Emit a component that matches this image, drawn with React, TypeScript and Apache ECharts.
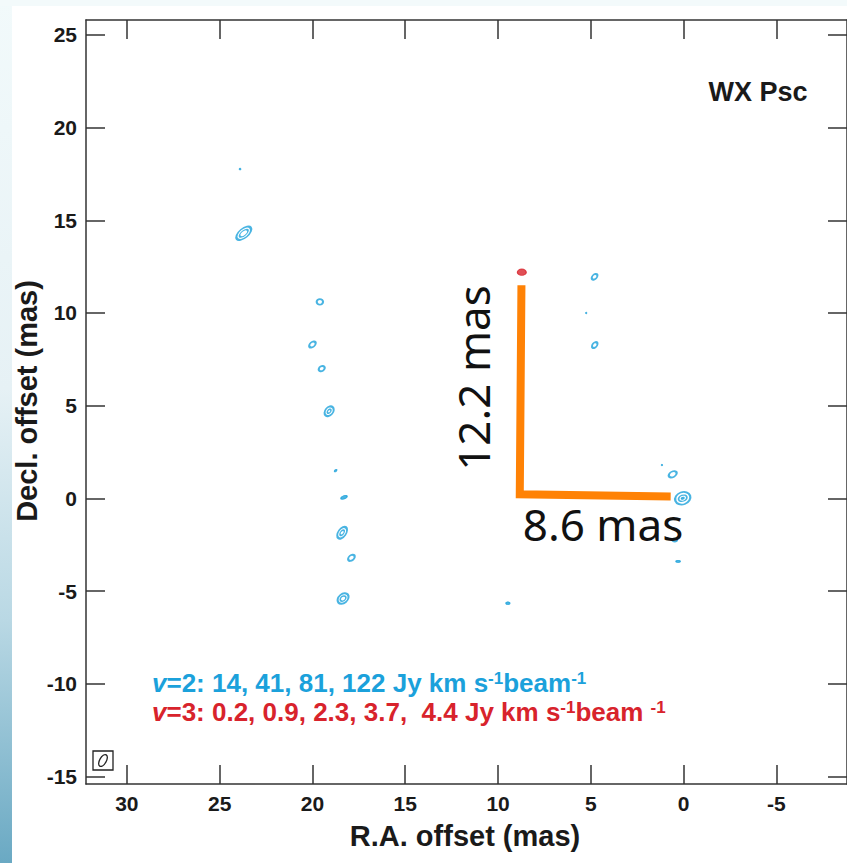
import React, { useEffect, useRef } from "react";
import * as echarts from "echarts";

// ---- data (mas) ----
const xTicks = [30, 25, 20, 15, 10, 5, 0, -5];
const yTicks = [25, 20, 15, 10, 5, 0, -5, -10, -15];
const xRange = [-8.8, 32.2];
const yRange = [-15.4, 25.8];

// [R.A. offset, Decl. offset, major, minor, angle(deg)]
const v2Outer = [
  [23.7, 14.3, 0.95, 0.5, 40],
  [19.6, 10.6, 0.34, 0.3, 0],
  [20.0, 8.3, 0.4, 0.26, 40],
  [19.5, 7.0, 0.34, 0.26, 30],
  [19.1, 4.7, 0.58, 0.42, 50],
  [18.4, -1.85, 0.7, 0.42, 55],
  [17.9, -3.2, 0.4, 0.28, 40],
  [18.35, -5.4, 0.66, 0.48, 40],
  [4.8, 11.95, 0.36, 0.24, 45],
  [4.79, 8.27, 0.36, 0.24, 50],
  [0.59, 1.3, 0.46, 0.3, 30],
  [0.05, 0.01, 0.84, 0.66, 20],
  [0.48, -2.24, 0.24, 0.18, 0],
];
const v2Inner = [
  [23.7, 14.3, 0.55, 0.25, 40],
  [19.1, 4.7, 0.24, 0.16, 50],
  [18.4, -1.85, 0.32, 0.18, 55],
  [18.35, -5.4, 0.34, 0.24, 40],
  [0.05, 0.01, 0.46, 0.32, 20],
];
const v2Cores = [
  [23.9, 17.76, 0.1, 0.1, 0],
  [18.75, 1.5, 0.16, 0.1, 40],
  [18.3, 0.06, 0.36, 0.18, 20],
  [9.47, -5.65, 0.22, 0.15, 0],
  [5.25, 10.0, 0.08, 0.08, 0],
  [1.17, 1.8, 0.08, 0.08, 0],
  [0.3, -3.4, 0.24, 0.13, 0],
  [0.05, 0.01, 0.16, 0.11, 20],
];
const v3Spots = [[8.72, 12.2, 0.48, 0.34, 0]];
const offsetL = [
  [8.74, 11.5],
  [8.83, 0.22],
  [0.7, 0.1],
];
const titleText = "WX Psc";
const v2Levels = "14, 41, 81, 122";
const v3Levels = "0.2, 0.9, 2.3, 3.7,  4.4";

const BLUE = "#1ba1db";
const RED = "#d8232c";
const ORANGE = "#ff8205";
const INK = "#1a1a1a";
const ELLIPSE =
  "path://M1,0C1,0.552,0.552,1,0,1C-0.552,1,-1,0.552,-1,0C-1,-0.552,-0.552,-1,0,-1C0.552,-1,1,-0.552,1,0Z";

const GRID = { left: 86, top: 20, width: 762, height: 764 };
const PX = GRID.width / (xRange[1] - xRange[0]);

function toItems(arr: number[][]) {
  return arr.map((d) => ({
    value: [d[0], d[1]],
    symbolSize: [Math.max(d[2] * PX, 1.5), Math.max(d[3] * PX, 1.5)],
    symbolRotate: d[4],
  }));
}

export default function App() {
  const ref = useRef<HTMLDivElement>(null);
  useEffect(() => {
    if (!ref.current) return;
    const chart = echarts.init(ref.current, null, { renderer: "svg" });
    const font = "Liberation Sans, Arial, Helvetica, sans-serif";
    const axisLine = { show: true, onZero: false, lineStyle: { color: "#333", width: 1.5 } };
    const tick = (vals: number[]) => ({
      show: true,
      inside: true,
      length: 19,
      customValues: vals,
      lineStyle: { color: "#333", width: 1.5 },
    });
    const label = (vals: number[], margin: number) => ({
      show: true,
      customValues: vals,
      fontFamily: font,
      fontWeight: "bold",
      fontSize: 21,
      color: INK,
      margin,
    });
    const xBase = {
      type: "value",
      inverse: true,
      min: xRange[0],
      max: xRange[1],
      splitLine: { show: false },
      axisLine,
    };
    const yBase = {
      type: "value",
      min: yRange[0],
      max: yRange[1],
      splitLine: { show: false },
      axisLine,
    };
    const rich = {
      v: { fontStyle: "italic", fontWeight: "bold", fontSize: 26, fontFamily: font },
      n: { fontWeight: "bold", fontSize: 26, fontFamily: font },
      s: { fontWeight: "bold", fontSize: 17, fontFamily: font, verticalAlign: "top", lineHeight: 16 },
    };
    const option: any = {
      animation: false,
      backgroundColor: "#ffffff",
      grid: { ...GRID, containLabel: false },
      xAxis: [
        { ...xBase, position: "bottom", axisTick: tick(xTicks), axisLabel: label(xTicks, 9) },
        { ...xBase, position: "top", axisTick: tick(xTicks), axisLabel: { show: false } },
      ],
      yAxis: [
        { ...yBase, position: "left", axisTick: tick(yTicks), axisLabel: label(yTicks, 9) },
        { ...yBase, position: "right", axisTick: tick(yTicks), axisLabel: { show: false } },
      ],
      series: [
        {
          type: "line",
          data: offsetL,
          showSymbol: false,
          symbol: "none",
          lineStyle: { color: ORANGE, width: 8, join: "miter", cap: "butt" },
          z: 3,
        },
        {
          type: "scatter",
          data: toItems(v2Outer),
          symbol: ELLIPSE,
          itemStyle: { color: "rgba(0,0,0,0)", borderColor: BLUE, borderWidth: 2 },
          z: 4,
        },
        {
          type: "scatter",
          data: toItems(v2Inner),
          symbol: ELLIPSE,
          itemStyle: { color: "rgba(0,0,0,0)", borderColor: BLUE, borderWidth: 1.5 },
          z: 4,
        },
        {
          type: "scatter",
          data: toItems(v2Cores),
          symbol: ELLIPSE,
          itemStyle: { color: BLUE, borderColor: BLUE, borderWidth: 1 },
          z: 4,
        },
        {
          type: "scatter",
          data: toItems(v3Spots),
          symbol: ELLIPSE,
          itemStyle: { color: RED, borderColor: RED, borderWidth: 1 },
          z: 4,
        },
      ],
      graphic: [
        {
          type: "rect",
          shape: { x: 0, y: 0, width: 12, height: 863 },
          style: {
            fill: new echarts.graphic.LinearGradient(0, 0, 0, 1, [
              { offset: 0, color: "#f2fafb" },
              { offset: 0.45, color: "#e6f1f5" },
              { offset: 0.72, color: "#b9d8e4" },
              { offset: 1, color: "#6aa9c3" },
            ]),
          },
          silent: true,
          z: -10,
        },
        {
          type: "rect",
          shape: { x: 0, y: 0, width: 847, height: 6 },
          style: { fill: "#f3fafb" },
          silent: true,
          z: -10,
        },
        {
          type: "text",
          x: 758,
          y: 92,
          style: {
            text: titleText,
            fontFamily: font,
            fontWeight: "bold",
            fontSize: 27,
            fill: INK,
            align: "center",
            verticalAlign: "middle",
          },
        },
        {
          type: "text",
          x: 465,
          y: 836,
          style: {
            text: "R.A. offset (mas)",
            fontFamily: font,
            fontWeight: "bold",
            fontSize: 29,
            fill: INK,
            align: "center",
            verticalAlign: "middle",
          },
        },
        {
          type: "text",
          x: 27,
          y: 401,
          rotation: Math.PI / 2,
          style: {
            text: "Decl. offset (mas)",
            fontFamily: font,
            fontWeight: "bold",
            fontSize: 29,
            fill: INK,
            align: "center",
            verticalAlign: "middle",
          },
        },
        {
          type: "text",
          x: 152,
          y: 683,
          style: {
            text: "{v|v}{n|=2: " + v2Levels + " Jy km s}{s|-1}{n|beam}{s|-1}",
            rich,
            fill: BLUE,
            align: "left",
            verticalAlign: "middle",
          },
        },
        {
          type: "text",
          x: 152,
          y: 712,
          style: {
            text: "{v|v}{n|=3: " + v3Levels + " Jy km s}{s|-1}{n|beam }{s|-1}",
            rich,
            fill: RED,
            align: "left",
            verticalAlign: "middle",
          },
        },
        {
          type: "text",
          x: 473,
          y: 378,
          rotation: Math.PI / 2,
          style: {
            text: "12.2 mas",
            fontFamily: "Noto Sans, Open Sans, sans-serif",
            fontSize: 44,
            fill: "#111",
            align: "center",
            verticalAlign: "middle",
          },
          z: 5,
        },
        {
          type: "text",
          x: 603,
          y: 524,
          style: {
            text: "8.6 mas",
            fontFamily: "Noto Sans, Open Sans, sans-serif",
            fontSize: 44,
            fill: "#111",
            align: "center",
            verticalAlign: "middle",
          },
          z: 5,
        },
        {
          type: "rect",
          shape: { x: 93, y: 751, width: 20, height: 19 },
          style: { fill: "none", stroke: "#222", lineWidth: 1.3 },
        },
        {
          type: "ellipse",
          x: 103,
          y: 760.5,
          rotation: (60 * Math.PI) / 180,
          shape: { cx: 0, cy: 0, rx: 6.5, ry: 3.3 },
          style: { fill: "none", stroke: "#222", lineWidth: 1.3 },
        },
      ],
    };
    chart.setOption(option);
    return () => chart.dispose();
  }, []);
  return (
    <div
      ref={ref}
      style={{ position: "absolute", left: 0, top: 0, width: 847, height: 863 }}
    />
  );
}
